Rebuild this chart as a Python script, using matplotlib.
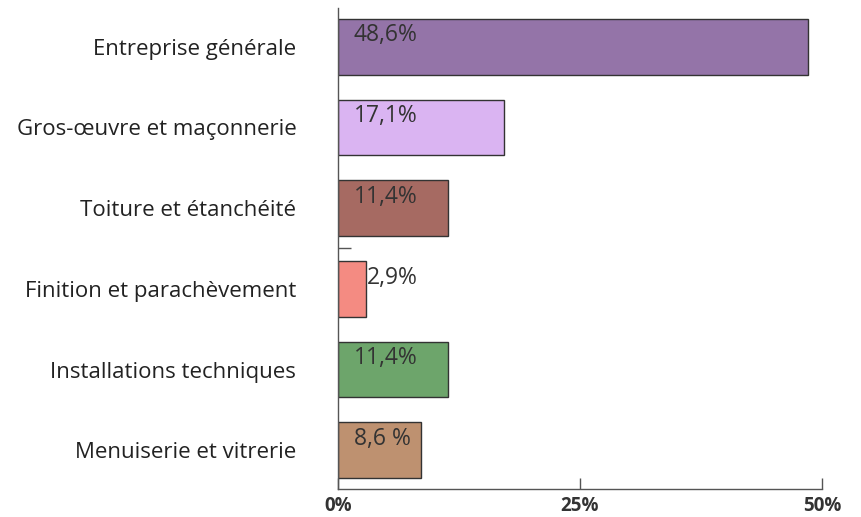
import matplotlib
matplotlib.use("Agg")
import matplotlib.pyplot as plt

categories = ["Entreprise générale", "Gros-œuvre et maçonnerie", "Toiture et étanchéité",
              "Finition et parachèvement", "Installations techniques", "Menuiserie et vitrerie"]
values = [48.6, 17.1, 11.4, 2.9, 11.4, 8.6]
labels = ["48,6%", "17,1%", "11,4%", "2,9%", "11,4%", "8,6 %"]
colors = ["#9474A8", "#DAB4F2", "#A66A62", "#F48B82", "#6DA56B", "#BE9170"]
xticks = [0, 25, 50]
xticklabels = ["0%", "25%", "50%"]

plt.rcParams["font.family"] = ["Open Sans", "DejaVu Sans"]

fig = plt.figure(figsize=(8.62, 5.17), dpi=100)
ax = fig.add_axes([338 / 862, 1 - 489 / 517, (822 - 338) / 862, (489 - 8) / 517])

ypos = list(range(len(categories)))
ax.barh(ypos, values, height=0.69, color=colors, edgecolor="#333333", linewidth=1.0)

# value labels sit inside the bar, unless the bar is too short
for y, v, lab in zip(ypos, values, labels):
    x = 1.65 if v > 5 else v + 0.05
    ax.text(x, y - 0.14, lab, ha="left", va="center", fontsize=16.5, color="#333333")

ax.set_xlim(0, 50)
ax.set_ylim(5.48, -0.48)

ax.set_xticks(xticks)
ax.set_xticklabels(xticklabels, fontsize=13.5, fontweight="bold", color="#333333")
ax.tick_params(axis="x", direction="in", length=8, width=1, color="#555555", pad=5)

# y axis: category labels, plus the lone stray tick between rows
ax.set_yticks(ypos)
ax.set_yticklabels(categories, fontsize=16, color="#222222")
ax.tick_params(axis="y", length=0, pad=30)
ax.set_yticks([2.5], minor=True)
ax.tick_params(axis="y", which="minor", direction="in", length=9, width=1, color="#555555")

for s in ["top", "right"]:
    ax.spines[s].set_visible(False)
for s in ["left", "bottom"]:
    ax.spines[s].set_color("#555555")
    ax.spines[s].set_linewidth(1)

fig.savefig("out.png", dpi=100, facecolor="white")
